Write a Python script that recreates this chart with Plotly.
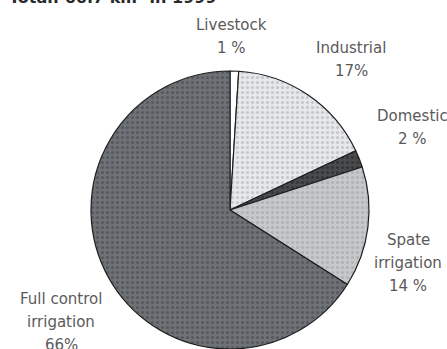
import plotly.graph_objects as go

categories = ["Livestock", "Industrial", "Domestic", "Spate irrigation", "Full control irrigation"]
values = [1, 17, 2, 14, 66]
label_lines = [["Livestock", "1 %"], ["Industrial", "17%"], ["Domestic", "2 %"],
               ["Spate", "irrigation", "14 %"], ["Full control", "irrigation", "66%"]]
title_text = "Total: 66.7 km³ in 1999"

W, H = 447, 349
colors = ["#ffffff", "#e6e8ea", "#4a4b4d", "#c6c8ca", "#6e7175"]
pat_fg = ["#ffffff", "#c4c8cc", "#333436", "#b0b3b6", "#55585c"]

cx, cy, r = 230, 210, 139
fig = go.Figure(go.Pie(
    labels=categories, values=values, sort=False, direction="clockwise", rotation=0,
    textinfo="none", hoverinfo="label+percent",
    marker=dict(colors=colors, line=dict(color="#1e1e1e", width=1.2),
                pattern=dict(shape=".", fgcolor=pat_fg, bgcolor=colors,
                             size=5, solidity=0.3)),
    domain=dict(x=[(cx - r) / W, (cx + r) / W], y=[(H - cy - r) / H, (H - cy + r) / H]),
    showlegend=False,
))

pos = [(232, 25), (351, 48), (412, 116), (408, 240), (61, 299)]
ann = []
for (px, py), lines in zip(pos, label_lines):
    for i, t in enumerate(lines):
        ann.append(dict(x=px / W, y=1 - (py + i * 23) / H,
                        xref="paper", yref="paper",
                        text=t, showarrow=False, xanchor="center", yanchor="middle",
                        font=dict(family="DejaVu Sans", size=15, color="#5a5a5a")))
ann.append(dict(x=7 / W, y=1, xref="paper", yref="paper", yshift=3,
                text=title_text, showarrow=False, xanchor="left", yanchor="middle",
                font=dict(family="DejaVu Sans", size=16, color="#2a2a2a", weight="bold")))

fig.update_layout(width=W, height=H, margin=dict(l=0, r=0, t=0, b=0),
                  paper_bgcolor="white", plot_bgcolor="white", annotations=ann)
fig.write_html("out.html", config={"displayModeBar": False},
               post_script="document.body.style.margin='0';document.body.style.overflow='hidden';")
